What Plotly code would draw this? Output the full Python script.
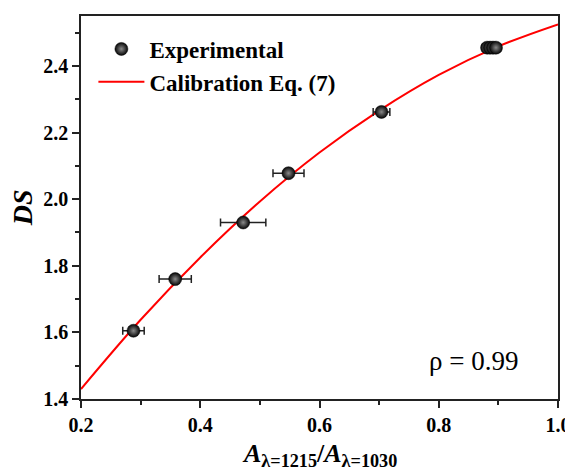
import plotly.graph_objects as go

# Experimental points
x_exp = [0.288, 0.358, 0.472, 0.548, 0.704, 0.881, 0.886, 0.891, 0.896]
ds_exp = [1.605, 1.760, 1.930, 2.078, 2.262, 2.455, 2.455, 2.455, 2.455]
x_err = [0.018, 0.027, 0.038, 0.026, 0.014, 0.008, 0.008, 0.008, 0.008]

# Calibration curve
curve_x = [0.20, 0.30, 0.40, 0.50, 0.60, 0.70, 0.80, 0.90, 1.00]
curve_ds = [1.430, 1.638, 1.825, 1.993, 2.140, 2.266, 2.373, 2.459, 2.525]

x_ticks = [0.2, 0.4, 0.6, 0.8, 1.0]
y_ticks = [1.4, 1.6, 1.8, 2.0, 2.2, 2.4]

FONT = "Liberation Serif"

fig = go.Figure()
fig.add_trace(go.Scatter(
    x=curve_x, y=curve_ds, mode="lines", name="Calibration Eq. (7)",
    line=dict(color="#ff0000", width=2, shape="spline"), legendrank=2,
))
fig.add_trace(go.Scatter(
    x=x_exp, y=ds_exp, mode="markers", name="Experimental",
    marker=dict(size=13, color="#050505", gradient=dict(type="radial", color="#8a8a8a"),
                line=dict(width=0.5, color="#000000")),
    error_x=dict(type="data", array=x_err, visible=True, color="#222222", thickness=1.5, width=4),
    legendrank=1,
))

axis_common = dict(
    showline=True, linecolor="#222222", linewidth=1.5, mirror=True,
    ticks="outside", ticklen=7, tickwidth=1.5, tickcolor="#222222",
    showgrid=False, zeroline=False,
    tickfont=dict(family=FONT, size=20, color="#000000", weight="bold"),
)

fig.update_xaxes(range=[0.2, 1.0], tickvals=x_ticks, ticktext=[f"{v:.1f}" for v in x_ticks],
                 minor=dict(ticks="outside", ticklen=4, tickwidth=1.5, tickcolor="#222222", dtick=0.1),
                 **axis_common)
fig.update_yaxes(range=[1.4, 2.55], tickvals=y_ticks, ticktext=[f"{v:.1f}" for v in y_ticks],
                 minor=dict(ticks="outside", ticklen=4, tickwidth=1.5, tickcolor="#222222", dtick=0.1),
                 **axis_common)

fig.add_annotation(
    text="<i>A</i><sub>λ=1215</sub>/<i>A</i><sub>λ=1030</sub>",
    xref="paper", yref="paper", x=0.5, y=-0.1, yanchor="top", xanchor="center",
    showarrow=False, font=dict(family=FONT, size=26, color="#000000", weight="bold"),
)
fig.add_annotation(
    text="<i>DS</i>", textangle=-90,
    xref="paper", yref="paper", x=-0.122, y=0.5, xanchor="center", yanchor="middle",
    showarrow=False, font=dict(family=FONT, size=28, color="#000000", weight="bold"),
)
fig.add_annotation(
    text="ρ = 0.99",
    xref="paper", yref="paper", x=0.822, y=0.1, xanchor="center", yanchor="middle",
    showarrow=False, font=dict(family=FONT, size=27, color="#000000"),
)

fig.update_layout(
    width=573, height=470,
    margin=dict(l=73, r=23, t=6, b=79),
    paper_bgcolor="white", plot_bgcolor="white",
    showlegend=True,
    legend=dict(x=0.026, y=0.97, xanchor="left", yanchor="top", bgcolor="rgba(0,0,0,0)",
                font=dict(family=FONT, size=23, color="#000000", weight="bold"),
                itemsizing="trace", itemwidth=46),
)

fig.write_html("out.html")
